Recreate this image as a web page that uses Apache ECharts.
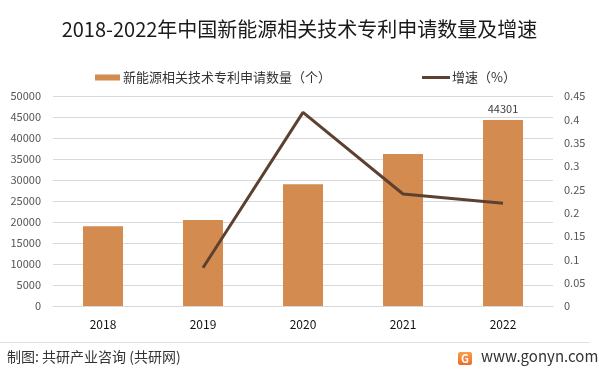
<!DOCTYPE html>
<html>
<head>
<meta charset="utf-8">
<script src="https://cdn.jsdelivr.net/npm/echarts@6/dist/echarts.min.js"></script>
<style>
html,body{margin:0;padding:0;background:#fff;}
#c{width:599px;height:374px;}
</style>
</head>
<body>
<div id="c"></div>
<script>
var years = ['2018', '2019', '2020', '2021', '2022'];
var applications = [19000, 20500, 29000, 36200, 44301];
var growth = [null, 0.082, 0.415, 0.24, 0.22];
var barName = '新能源相关技术专利申请数量（个）';
var lineName = '增速（%）';
var titleText = '2018-2022年中国新能源相关技术专利申请数量及增速';
var FONT = '"Noto Sans CJK SC", "Noto Sans", sans-serif';

var chart = echarts.init(document.getElementById('c'), null, {renderer: 'canvas'});
var barData = applications.map(function (v, i) {
  return i === applications.length - 1 ? {value: v, label: {show: true}} : v;
});
chart.setOption({
  backgroundColor: '#fff',
  animation: false,
  textStyle: {fontFamily: FONT},
  title: {
    text: titleText,
    left: 'center',
    top: 14,
    textStyle: {fontFamily: FONT, fontSize: 20, fontWeight: 'normal', color: '#1a1a1a'}
  },
  legend: [{
    data: [barName],
    left: 90,
    top: 66,
    itemWidth: 25,
    itemHeight: 6,
    itemGap: 3,
    icon: 'rect',
    textStyle: {fontFamily: FONT, fontSize: 13, color: '#333', padding: [0, 0, 0, -2]}
  }, {
    data: [lineName],
    left: 417,
    top: 66,
    itemWidth: 28,
    itemHeight: 3,
    icon: 'rect',
    textStyle: {fontFamily: FONT, fontSize: 13, color: '#333', padding: [0, 0, 0, -3]}
  }],
  grid: {left: 53, right: 46, top: 96, bottom: 68, containLabel: false},
  xAxis: {
    type: 'category',
    data: years,
    boundaryGap: true,
    axisLine: {show: true, lineStyle: {color: '#d9d9d9', width: 1}},
    axisTick: {show: false},
    axisLabel: {fontFamily: FONT, fontSize: 12, color: '#111', margin: 12}
  },
  yAxis: [{
    type: 'value',
    min: 0,
    max: 50000,
    interval: 5000,
    axisLine: {show: false},
    axisTick: {show: false},
    axisLabel: {fontFamily: FONT, fontSize: 11, color: '#555', margin: 12,
      formatter: function (v) { return String(v); }},
    splitLine: {show: true, lineStyle: {color: '#d9d9d9', width: 1}}
  }, {
    type: 'value',
    min: 0,
    max: 0.45,
    interval: 0.05,
    axisLine: {show: false},
    axisTick: {show: false},
    axisLabel: {fontFamily: FONT, fontSize: 11, color: '#555', margin: 11,
      formatter: function (v) { return String(Math.round(v * 100) / 100); }},
    splitLine: {show: false}
  }],
  series: [{
    name: barName,
    type: 'bar',
    data: barData,
    barWidth: 40,
    itemStyle: {color: '#D38B4F'},
    label: {show: false, position: 'top', distance: 6, fontFamily: FONT, fontSize: 11, color: '#404040',
      formatter: function (p) { return String(p.value); }}
  }, {
    name: lineName,
    type: 'line',
    yAxisIndex: 1,
    data: growth,
    symbol: 'none',
    connectNulls: false,
    lineStyle: {color: '#5C4130', width: 3},
    itemStyle: {color: '#5C4130'}
  }],
  graphic: [{
    type: 'line',
    shape: {x1: 0, y1: 342.5, x2: 590, y2: 342.5},
    style: {stroke: '#e3e3e3', lineWidth: 1}
  }, {
    type: 'text',
    left: 7,
    top: 350,
    style: {text: '制图: 共研产业咨询 (共研网)', fontFamily: FONT, fontSize: 14, fill: '#333'}
  }, {
    type: 'rect',
    shape: {x: 458, y: 352, width: 14, height: 13, r: 2},
    style: {fill: new echarts.graphic.LinearGradient(0, 0, 0, 1, [{offset: 0, color: '#F7A04A'}, {offset: 1, color: '#F06A2A'}])}
  }, {
    type: 'text',
    left: 461,
    top: 353,
    style: {text: 'G', fontFamily: FONT, fontSize: 11, fontWeight: 'bold', fill: '#fff'}
  }, {
    type: 'text',
    left: 481,
    top: 349,
    style: {text: 'www.gonyn.com', fontFamily: FONT, fontSize: 15, fill: '#333'}
  }]
});
</script>
</body>
</html>
